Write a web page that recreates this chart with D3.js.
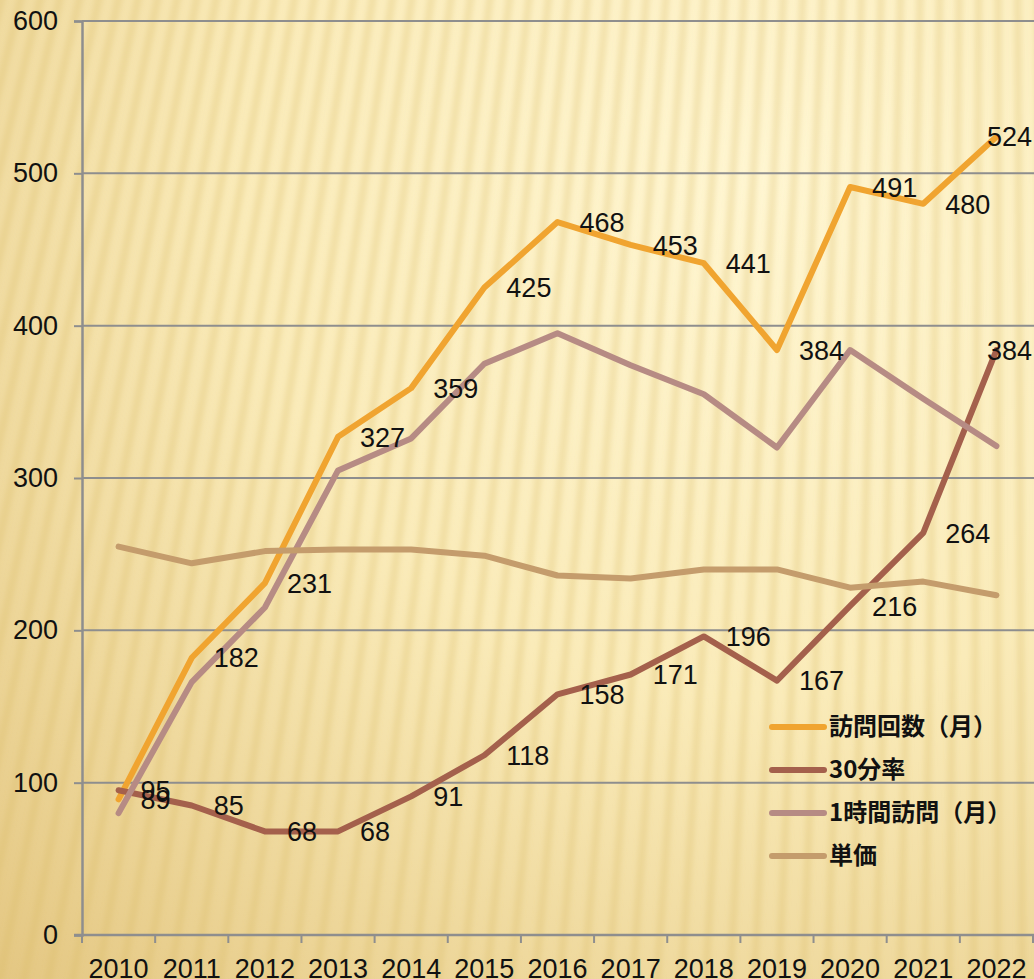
<!DOCTYPE html>
<html>
<head>
<meta charset="utf-8">
<script src="https://cdn.jsdelivr.net/npm/d3@7"></script>
<style>
  html, body { margin: 0; padding: 0; background: #f6e3a8; }
  svg { display: block; }
  text { font-family: "Liberation Sans", Arial, sans-serif; fill: #111; }
  .legend text { font-family: "Noto Sans CJK JP", sans-serif; font-weight: bold; }
</style>
</head>
<body>
<svg id="chart" width="1034" height="979"></svg>
<script>
// data
const years = ['2010', '2011', '2012', '2013', '2014', '2015', '2016', '2017', '2018', '2019', '2020', '2021', '2022']
const visits = [89, 182, 231, 327, 359, 425, 468, 453, 441, 384, 491, 480, 524]
const rate30 = [95, 85, 68, 68, 91, 118, 158, 171, 196, 167, 216, 264, 384]
const hourVisits = [80, 166, 215, 305, 326, 375, 395, 374, 355, 320, 384, 352, 321]
const unitPrice = [255, 244, 252, 253, 253, 249, 236, 234, 240, 240, 228, 232, 223]
const yTicks = [0, 100, 200, 300, 400, 500, 600]

const series = [
  { name: '訪問回数（月）', values: visits, color: '#F0A430', labels: true },
  { name: '30分率', values: rate30, color: '#A4604C', labels: true },
  { name: '1時間訪問（月）', values: hourVisits, color: '#B68B84', labels: false },
  { name: '単価', values: unitPrice, color: '#C49C6C', labels: false }
]

const W = 1034, H = 979
const svg = d3.select('#chart')

// background
const defs = svg.append('defs')
const grad = defs.append('radialGradient')
  .attr('id', 'bg')
  .attr('gradientUnits', 'userSpaceOnUse')
  .attr('cx', 760).attr('cy', 180).attr('r', 1150)
grad.append('stop').attr('offset', 0).attr('stop-color', '#FFF6D2')
grad.append('stop').attr('offset', 0.45).attr('stop-color', '#FAEBB9')
grad.append('stop').attr('offset', 1).attr('stop-color', '#E2C47E')

defs.append('filter').attr('id', 'blur')
  .attr('x', -0.2).attr('y', -0.2).attr('width', 1.4).attr('height', 1.4)
  .append('feGaussianBlur').attr('stdDeviation', 2.5)

svg.append('rect').attr('width', W).attr('height', H).attr('fill', 'url(#bg)')

// fanned stripes
const cx0 = 1000, cy0 = -4000
svg.append('g')
  .attr('filter', 'url(#blur)')
  .selectAll('line')
  .data(d3.range(-300, 1150, 22))
  .enter()
  .append('line')
  .attr('x1', (d) => cx0 + (d - cx0) * ((-20 - cy0) / (500 - cy0)))
  .attr('y1', -20)
  .attr('x2', (d) => cx0 + (d - cx0) * ((1000 - cy0) / (500 - cy0)))
  .attr('y2', 1000)
  .attr('stroke', '#D9B865')
  .attr('stroke-opacity', 0.26)
  .attr('stroke-width', 8)

// scales
const x = d3.scaleBand().domain(years).range([82, 1033])
const y = d3.scaleLinear().domain([0, 600]).range([935, 21])
const cxOf = (i) => x(years[i]) + x.bandwidth() / 2

// grid
svg.append('g')
  .selectAll('line')
  .data(yTicks.filter((d) => d > 0))
  .enter()
  .append('line')
  .attr('x1', 82)
  .attr('x2', W)
  .attr('y1', (d) => y(d))
  .attr('y2', (d) => y(d))
  .attr('stroke', '#8E8E8E')
  .attr('stroke-width', 2)

// y axis
const yAxis = svg.append('g')
  .attr('transform', 'translate(82,0)')
  .call(d3.axisLeft(y).tickValues(yTicks).tickSize(8).tickPadding(16))
yAxis.select('.domain').attr('stroke', '#8E8E8E').attr('stroke-width', 2.5)
yAxis.selectAll('.tick line').attr('stroke', '#8E8E8E').attr('stroke-width', 2)
yAxis.selectAll('.tick text')
  .style('font-size', '27px')
  .style('font-family', '"Liberation Sans", Arial, sans-serif')
  .attr('fill', '#111')

// x axis
const xEdges = years.map((d) => x(d)).concat([x.range()[1]])
svg.append('line')
  .attr('x1', 74).attr('x2', W)
  .attr('y1', y(0)).attr('y2', y(0))
  .attr('stroke', '#8E8E8E').attr('stroke-width', 2.5)
svg.append('g')
  .selectAll('line')
  .data(xEdges)
  .enter()
  .append('line')
  .attr('x1', (d) => d).attr('x2', (d) => d)
  .attr('y1', y(0)).attr('y2', y(0) + 8)
  .attr('stroke', '#8E8E8E').attr('stroke-width', 2)
svg.append('g')
  .selectAll('text')
  .data(years)
  .enter()
  .append('text')
  .attr('x', (d) => x(d) + x.bandwidth() / 2)
  .attr('y', 978)
  .attr('text-anchor', 'middle')
  .style('font-size', '27px')
  .text((d) => d)

// lines
const line = d3.line()
  .x((d, i) => cxOf(i))
  .y((d) => y(d))

svg.append('g')
  .selectAll('path')
  .data(series)
  .enter()
  .append('path')
  .attr('d', (s) => line(s.values))
  .attr('fill', 'none')
  .attr('stroke', (s) => s.color)
  .attr('stroke-width', 6)
  .attr('stroke-linejoin', 'round')
  .attr('stroke-linecap', 'round')

// data labels
series.filter((s) => s.labels).forEach((s) => {
  svg.append('g')
    .selectAll('text')
    .data(s.values)
    .enter()
    .append('text')
    .attr('x', (d, i) => (i === years.length - 1 ? W - 2 : cxOf(i) + 22))
    .attr('y', (d) => y(d))
    .attr('dy', '0.36em')
    .attr('text-anchor', (d, i) => (i === years.length - 1 ? 'end' : 'start'))
    .style('font-size', '27px')
    .text((d) => d)
})

// legend
const legend = svg.append('g').attr('class', 'legend')
const rows = legend.selectAll('g')
  .data(series)
  .enter()
  .append('g')
  .attr('transform', (d, i) => 'translate(770,' + (727 + i * 43) + ')')
rows.append('line')
  .attr('x1', 2).attr('x2', 54)
  .attr('stroke', (d) => d.color)
  .attr('stroke-width', 6)
  .attr('stroke-linecap', 'round')
rows.append('text')
  .attr('x', 59)
  .attr('dy', '0.35em')
  .style('font-size', '24px')
  .text((d) => d.name)
</script>
</body>
</html>
